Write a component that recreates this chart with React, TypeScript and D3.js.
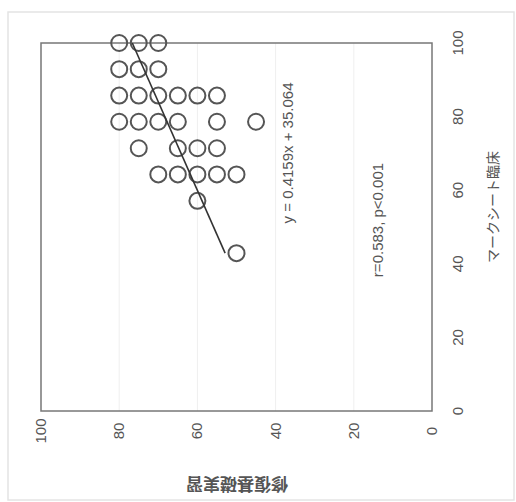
import React from "react";
import * as d3 from "d3";

// マークシート臨床 (vertical axis in the rotated picture)
const markSheet = [
  100, 100, 100,
  92.9, 92.9, 92.9,
  85.7, 85.7, 85.7, 85.7, 85.7, 85.7,
  78.6, 78.6, 78.6, 78.6, 78.6, 78.6,
  71.4, 71.4, 71.4, 71.4,
  64.3, 64.3, 64.3, 64.3, 64.3,
  57.1,
  42.9,
];
// 修復基礎実習 (horizontal axis, reversed)
const shufuku = [
  80, 75, 70,
  80, 75, 70,
  80, 75, 70, 65, 60, 55,
  80, 75, 70, 65, 55, 45,
  75, 65, 60, 55,
  70, 65, 60, 55, 50,
  60,
  50,
];
const tickValues = [0, 20, 40, 60, 80, 100];
const gridValues = [20, 40, 60, 80];
const slope = 0.4159;
const intercept = 35.064;
const equationText = "y = 0.4159x + 35.064";
const statText = "r=0.583, p<0.001";
const titleMark = "マークシート臨床";
const titleShufuku = "修復基礎実習";

const W = 516;
const H = 502;
const left = 41, right = 432, top = 43, bottom = 411;

export default function App() {
  const xS = d3.scaleLinear().domain([0, 100]).range([right, left]); // 修復
  const yS = d3.scaleLinear().domain([0, 100]).range([bottom, top]); // マーク
  const mMin = d3.min(markSheet) as number;
  const mMax = 100;
  const lineGen = d3
    .line<number>()
    .x((m) => xS(slope * m + intercept))
    .y((m) => yS(m));
  const font = "'Liberation Sans', Arial, sans-serif";
  const jfont = "'Noto Sans CJK JP', sans-serif";
  const textColor = "#555";
  return (
    <svg
      width={W}
      height={H}
      style={{ position: "absolute", left: 0, top: 0, background: "#fff" }}
    >
      <rect x={8} y={12} width={506} height={488} fill="none" stroke="#e4e4e4" strokeWidth={1.5} />
      {gridValues.map((g) => (
        <line key={g} x1={xS(g)} x2={xS(g)} y1={top} y2={bottom} stroke="#efefef" strokeWidth={1} />
      ))}
      <rect x={left} y={top} width={right - left} height={bottom - top} fill="none" stroke="#777" strokeWidth={1.5} />
      {markSheet.map((m, i) => (
        <circle key={i} cx={xS(shufuku[i])} cy={yS(m)} r={8} fill="none" stroke="#555" strokeWidth={2} />
      ))}
      <path d={lineGen([mMin, mMax]) || ""} fill="none" stroke="#333" strokeWidth={1.6} />
      {tickValues.map((t) => (
        <text
          key={"b" + t}
          transform={`translate(${xS(t) + 5},${431}) rotate(-90)`}
          textAnchor="middle"
          fontFamily={font}
          fontSize={15}
          fill={textColor}
        >
          {t}
        </text>
      ))}
      {tickValues.map((t) => (
        <text
          key={"r" + t}
          transform={`translate(${463},${yS(t)}) rotate(-90)`}
          textAnchor="middle"
          fontFamily={font}
          fontSize={15}
          fill={textColor}
        >
          {t}
        </text>
      ))}
      <text
        transform={`translate(${498},${207}) rotate(-90)`}
        textAnchor="middle"
        fontFamily={jfont}
        fontSize={14}
        fill={textColor}
      >
        {titleMark}
      </text>
      <text
        transform={`translate(${237},${478}) rotate(180)`}
        textAnchor="middle"
        fontFamily={jfont}
        fontSize={17}
        fontWeight="bold"
        fill={textColor}
      >
        {titleShufuku}
      </text>
      <text
        transform={`translate(${293},${153}) rotate(-90)`}
        textAnchor="middle"
        fontFamily={font}
        fontSize={15}
        fill={textColor}
      >
        {equationText}
      </text>
      <text
        transform={`translate(${383},${220}) rotate(-90)`}
        textAnchor="middle"
        fontFamily={font}
        fontSize={15}
        fill={textColor}
      >
        {statText}
      </text>
    </svg>
  );
}
